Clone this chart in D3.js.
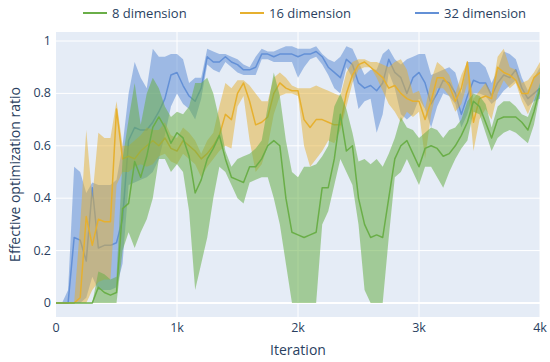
<!DOCTYPE html>
<html>
<head>
<meta charset="utf-8">
<script src="https://cdn.jsdelivr.net/npm/d3@7"></script>
<style>
	html, body { margin: 0; padding: 0; background: #fff; }
	svg text { font-family: "Open Sans", "DejaVu Sans", sans-serif; fill: #2a3f5f; }
</style>
</head>
<body>
<svg id="svg"></svg>
<script>
const iterations = [0,50,100,150,200,250,300,350,400,450,500,550,600,650,700,750,800,850,900,950,
	1000,1050,1100,1150,1200,1250,1300,1350,1400,1450,1500,1550,1600,1650,1700,1750,1800,1850,1900,1950,
	2000,2050,2100,2150,2200,2250,2300,2350,2400,2450,2500,2550,2600,2650,2700,2750,2800,2850,2900,2950,
	3000,3050,3100,3150,3200,3250,3300,3350,3400,3450,3500,3550,3600,3650,3700,3750,3800,3850,3900,3950,4000];

// 8 dimension
const dim8Mean = [0,0,0,0,0,0,0,0.06,0.04,0.03,
	0.04,0.36,0.38,0.54,0.48,0.56,0.67,0.71,0.67,0.61,
	0.65,0.63,0.56,0.42,0.47,0.55,0.59,0.64,0.55,0.48,
	0.47,0.46,0.52,0.52,0.55,0.60,0.62,0.60,0.40,0.27,
	0.26,0.25,0.26,0.27,0.44,0.44,0.55,0.72,0.58,0.60,
	0.40,0.30,0.25,0.26,0.25,0.40,0.55,0.60,0.62,0.57,
	0.52,0.59,0.60,0.59,0.56,0.57,0.60,0.64,0.69,0.77,
	0.75,0.69,0.63,0.70,0.71,0.71,0.71,0.69,0.66,0.73,
	0.82];
const dim8Upper = [0,0,0,0,0,0,0,0.12,0.11,0.09,
	0.10,0.55,0.70,0.84,0.68,0.80,0.86,0.82,0.75,0.71,
	0.73,0.72,0.75,0.84,0.84,0.86,0.80,0.70,0.58,0.52,
	0.55,0.56,0.57,0.59,0.62,0.75,0.88,0.79,0.62,0.50,
	0.48,0.52,0.52,0.53,0.56,0.60,0.75,0.80,0.74,0.65,
	0.54,0.55,0.53,0.55,0.52,0.57,0.63,0.71,0.67,0.66,
	0.63,0.65,0.67,0.66,0.63,0.66,0.67,0.70,0.77,0.80,
	0.79,0.76,0.67,0.75,0.77,0.77,0.75,0.72,0.71,0.77,
	0.84];
const dim8Lower = [0,0,0,0,0,0,0,0,0,0,
	0,0.20,0.27,0.21,0.27,0.32,0.40,0.55,0.55,0.50,
	0.53,0.50,0.35,0.05,0.15,0.25,0.40,0.52,0.50,0.45,
	0.40,0.38,0.46,0.47,0.48,0.48,0.40,0.30,0.15,0,
	0,0,0,0,0.30,0.35,0.45,0.55,0.50,0.45,
	0.30,0.05,0,0,0,0.25,0.48,0.50,0.55,0.50,
	0.45,0.52,0.52,0.48,0.44,0.50,0.55,0.59,0.62,0.73,
	0.72,0.65,0.58,0.63,0.65,0.66,0.65,0.63,0.61,0.68,
	0.80];

// 16 dimension
const dim16Mean = [0,0,0,0,0.02,0.33,0.22,0.32,0.31,0.31,
	0.74,0.55,0.56,0.55,0.58,0.60,0.62,0.60,0.63,0.59,
	0.58,0.62,0.60,0.58,0.55,0.57,0.60,0.64,0.72,0.70,
	0.80,0.84,0.77,0.68,0.69,0.71,0.80,0.84,0.82,0.81,
	0.81,0.70,0.67,0.70,0.70,0.69,0.68,0.68,0.80,0.87,
	0.91,0.92,0.90,0.88,0.86,0.82,0.83,0.80,0.78,0.77,
	0.77,0.70,0.77,0.86,0.86,0.83,0.77,0.82,0.92,0.69,
	0.78,0.79,0.78,0.90,0.88,0.87,0.85,0.80,0.80,0.86,
	0.88];
const dim16Upper = [0,0,0,0,0.30,0.66,0.40,0.65,0.63,0.63,
	0.77,0.60,0.60,0.62,0.64,0.67,0.66,0.66,0.69,0.64,
	0.63,0.67,0.65,0.62,0.57,0.62,0.65,0.75,0.84,0.82,
	0.85,0.85,0.83,0.80,0.77,0.77,0.86,0.88,0.86,0.83,
	0.82,0.82,0.82,0.83,0.82,0.81,0.80,0.79,0.88,0.92,
	0.93,0.93,0.92,0.92,0.91,0.90,0.92,0.93,0.89,0.80,
	0.81,0.74,0.85,0.92,0.90,0.87,0.80,0.87,0.92,0.78,
	0.81,0.84,0.80,0.94,0.97,0.90,0.89,0.84,0.85,0.88,
	0.92];
const dim16Lower = [0,0,0,0,0,0,0.05,0.08,0.09,0.09,
	0.45,0.50,0.50,0.52,0.53,0.52,0.53,0.56,0.57,0.54,
	0.53,0.57,0.55,0.53,0.48,0.52,0.55,0.58,0.60,0.59,
	0.75,0.79,0.62,0.50,0.53,0.60,0.72,0.79,0.80,0.80,
	0.79,0.60,0.52,0.55,0.58,0.62,0.61,0.66,0.75,0.84,
	0.89,0.90,0.90,0.86,0.81,0.76,0.73,0.69,0.73,0.71,
	0.73,0.55,0.72,0.82,0.82,0.79,0.73,0.76,0.84,0.58,
	0.70,0.74,0.70,0.80,0.85,0.82,0.84,0.77,0.72,0.78,
	0.84];

// 32 dimension
const dim32Mean = [0,0,0,0.25,0.24,0.16,0.44,0.21,0.22,0.22,
	0.23,0.32,0.62,0.67,0.66,0.66,0.69,0.73,0.78,0.87,
	0.88,0.83,0.79,0.77,0.82,0.94,0.92,0.92,0.94,0.92,
	0.91,0.89,0.89,0.90,0.95,0.95,0.94,0.95,0.95,0.95,
	0.94,0.95,0.95,0.96,0.94,0.90,0.88,0.86,0.93,0.91,
	0.84,0.82,0.83,0.81,0.84,0.93,0.88,0.86,0.80,0.86,
	0.88,0.84,0.76,0.80,0.85,0.84,0.80,0.72,0.79,0.85,
	0.84,0.84,0.79,0.84,0.87,0.86,0.89,0.82,0.78,0.80,
	0.82];
const dim32Upper = [0,0,0.05,0.52,0.50,0.42,0.46,0.45,0.45,0.45,
	0.47,0.60,0.80,0.92,0.86,0.82,0.97,0.94,0.94,0.95,
	0.95,0.93,0.84,0.86,0.86,0.97,0.96,0.95,0.95,0.94,
	0.93,0.91,0.90,0.94,0.97,0.96,0.96,0.97,0.98,0.98,
	0.97,0.97,0.97,0.98,0.95,0.93,0.92,0.94,0.98,0.97,
	0.92,0.87,0.89,0.89,0.95,0.97,0.93,0.91,0.93,0.94,
	0.95,0.95,0.87,0.88,0.89,0.90,0.88,0.80,0.92,0.92,
	0.92,0.90,0.84,0.89,0.96,0.95,0.93,0.86,0.81,0.86,
	0.90];
const dim32Lower = [0,0,0,0,0,0.02,0.10,0.05,0.05,0.05,
	0.06,0.15,0.45,0.46,0.47,0.48,0.50,0.55,0.64,0.75,
	0.80,0.76,0.74,0.70,0.78,0.91,0.89,0.88,0.92,0.90,
	0.88,0.87,0.87,0.87,0.93,0.93,0.92,0.92,0.92,0.92,
	0.86,0.90,0.93,0.94,0.91,0.87,0.82,0.80,0.90,0.86,
	0.74,0.77,0.78,0.65,0.72,0.88,0.82,0.72,0.70,0.72,
	0.78,0.74,0.67,0.75,0.80,0.79,0.76,0.67,0.72,0.80,
	0.80,0.79,0.76,0.78,0.81,0.83,0.85,0.79,0.75,0.77,
	0.78];

const xTicks = [0, 1000, 2000, 3000, 4000];
const xTickLabels = ['0', '1k', '2k', '3k', '4k'];
const yTicks = [0, 0.2, 0.4, 0.6, 0.8, 1];
const yTickLabels = ['0', '0.2', '0.4', '0.6', '0.8', '1'];

// drawn in this order so 8 dimension ends up on top
const series = [
	{ name: '32 dimension', mean: dim32Mean, upper: dim32Upper, lower: dim32Lower, color: '#6390d6', fillOpacity: 0.55 },
	{ name: '16 dimension', mean: dim16Mean, upper: dim16Upper, lower: dim16Lower, color: '#e6b02f', fillOpacity: 0.5 },
	{ name: '8 dimension', mean: dim8Mean, upper: dim8Upper, lower: dim8Lower, color: '#6aae48', fillOpacity: 0.55 }
];
const legendOrder = ['8 dimension', '16 dimension', '32 dimension'];

const svgWidth = 550;
const svgHeight = 362;
const plotLeft = 56;
const plotRight = 540;
const plotTop = 32;
const plotBottom = 317;

const svg = d3.select('#svg')
	.attr('width', svgWidth)
	.attr('height', svgHeight);

const xScale = d3.scaleLinear()
	.domain([0, 4000])
	.range([plotLeft, plotRight]);

// 0 at y=303, 1 at y=41; plot area extends a bit past both
const yScale = d3.scaleLinear()
	.domain([0, 1])
	.range([303, 41]);

// plot background
svg.append('rect')
	.attr('x', plotLeft)
	.attr('y', plotTop)
	.attr('width', plotRight - plotLeft)
	.attr('height', plotBottom - plotTop)
	.attr('fill', '#e5ecf6');

// grid
svg.append('g')
	.selectAll('line.xgrid')
		.data(xTicks.slice(1))
		.enter()
	.append('line')
		.attr('x1', d => xScale(d))
		.attr('x2', d => xScale(d))
		.attr('y1', plotTop)
		.attr('y2', plotBottom)
		.attr('stroke', '#fff')
		.attr('stroke-width', 1);

svg.append('g')
	.selectAll('line.ygrid')
		.data(yTicks)
		.enter()
	.append('line')
		.attr('x1', plotLeft)
		.attr('x2', plotRight)
		.attr('y1', d => yScale(d))
		.attr('y2', d => yScale(d))
		.attr('stroke', '#fff')
		.attr('stroke-width', d => d === 0 ? 2 : 1);

svg.append('defs').append('clipPath')
	.attr('id', 'plot-clip')
	.append('rect')
		.attr('x', plotLeft)
		.attr('y', plotTop)
		.attr('width', plotRight - plotLeft)
		.attr('height', plotBottom - plotTop);

const plotG = svg.append('g').attr('clip-path', 'url(#plot-clip)');

const area = d3.area()
	.x((d, i) => xScale(iterations[i]))
	.y0(d => yScale(d[0]))
	.y1(d => yScale(d[1]));

const line = d3.line()
	.x((d, i) => xScale(iterations[i]))
	.y(d => yScale(d));

series.forEach(s => {
	const band = s.lower.map((lo, i) => [lo, s.upper[i]]);
	plotG.append('path')
		.datum(band)
		.attr('d', area)
		.attr('fill', s.color)
		.attr('fill-opacity', s.fillOpacity)
		.attr('stroke', 'none');
	plotG.append('path')
		.datum(s.mean)
		.attr('d', line)
		.attr('fill', 'none')
		.attr('stroke', s.color)
		.attr('stroke-width', 1.5)
		.attr('stroke-linejoin', 'round');
});

// x tick labels
svg.append('g')
	.selectAll('text')
		.data(xTicks)
		.enter()
	.append('text')
		.attr('x', d => xScale(d))
		.attr('y', 332)
		.attr('text-anchor', 'middle')
		.attr('font-size', 12.5)
		.text((d, i) => xTickLabels[i]);

// y tick labels
svg.append('g')
	.selectAll('text')
		.data(yTicks)
		.enter()
	.append('text')
		.attr('x', 51)
		.attr('y', d => yScale(d) + 4)
		.attr('text-anchor', 'end')
		.attr('font-size', 12.5)
		.text((d, i) => yTickLabels[i]);

// axis titles
svg.append('text')
	.attr('x', (plotLeft + plotRight) / 2)
	.attr('y', 355)
	.attr('text-anchor', 'middle')
	.attr('font-size', 14)
	.text('Iteration');

svg.append('text')
	.attr('transform', `translate(20, ${(plotTop + plotBottom) / 2}) rotate(-90)`)
	.attr('text-anchor', 'middle')
	.attr('font-size', 14)
	.text('Effective optimization ratio');

// legend
const legendX = [83, 240, 415];
const legendG = svg.selectAll('g.legend')
		.data(legendOrder)
		.enter()
	.append('g')
		.attr('class', 'legend')
		.attr('transform', (d, i) => `translate(${legendX[i]}, 13)`);

legendG.append('line')
	.attr('x1', 0)
	.attr('x2', 24)
	.attr('y1', 0)
	.attr('y2', 0)
	.attr('stroke', name => series.find(s => s.name === name).color)
	.attr('stroke-width', 2);

legendG.append('text')
	.attr('x', 29)
	.attr('y', 4.5)
	.attr('font-size', 13)
	.text(name => name);
</script>
</body>
</html>
